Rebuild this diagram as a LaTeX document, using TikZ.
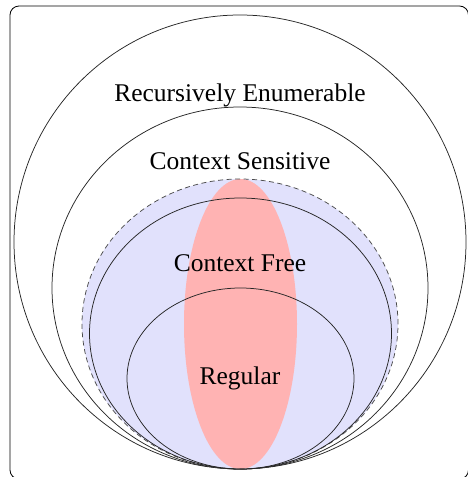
\documentclass[tikz,border=0pt]{standalone}
\usepackage{fontspec}
\setmainfont{Liberation Serif}
\definecolor{setblue}{HTML}{E1E1FC}
\definecolor{setred}{HTML}{FFB3B3}
\tikzset{
  setline/.style={draw=black!85, line width=0.75pt},
  lbl/.style={inner sep=0pt, font=\fontsize{25.5}{30}\selectfont},
}
\begin{document}
\begin{tikzpicture}[x=1pt, y=-1pt]
\useasboundingbox (0,0) rectangle (467,477);
\draw[line width=0.8pt, rounded corners=9pt] (10,6) rectangle (468.5,479);
% Recursively enumerable
\draw[setline] (240,242) ellipse [x radius=226pt, y radius=227pt];
% Context sensitive
\draw[setline] (240,288) ellipse [x radius=188pt, y radius=181pt];
% blue (dashed) region
\fill[setblue] (240,324) ellipse [x radius=158pt, y radius=145pt];
% red ellipse
\fill[setred] (240.5,324) ellipse [x radius=56.5pt, y radius=145pt];
\draw[setline, draw=black!70, dash pattern=on 5pt off 3.5pt] (240,324) ellipse [x radius=158pt, y radius=145pt];
% Context free
\draw[setline] (240.5,333.5) ellipse [x radius=151pt, y radius=135.5pt];
% Regular
\draw[setline] (240.5,378.5) ellipse [x radius=113.5pt, y radius=90.5pt];
\node[lbl] (re) at (240,95) {Recursively Enumerable};
\node[lbl] (cs) at (240,161) {Context Sensitive};
\node[lbl] (cf) at (240,263) {Context Free};
\node[lbl] (rg) at (240,378) {Regular};
\end{tikzpicture}
\end{document}
